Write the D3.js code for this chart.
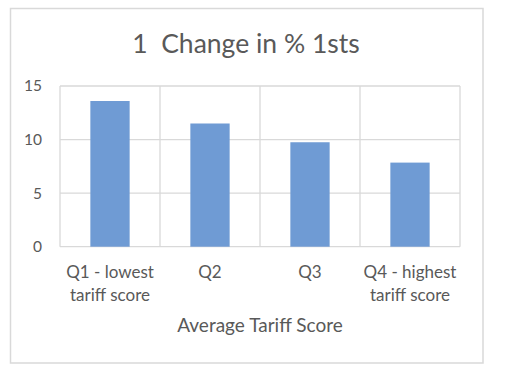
<!DOCTYPE html>
<html><head><meta charset="utf-8">
<script src="https://cdn.jsdelivr.net/npm/d3@7"></script>
<style>body{margin:0;background:#fff}svg{display:block}text{font-family:Lato,"Open Sans",sans-serif;fill:#595959;white-space:pre}</style>
</head><body>
<script>
const categories = [["Q1 - lowest","tariff score"],["Q2"],["Q3"],["Q4 - highest","tariff score"]];
const values = [13.6, 11.5, 9.75, 7.85];
const yTicks = [0, 5, 10, 15];
const title = "1  Change in % 1sts";
const xTitle = "Average Tariff Score";

const W = 505, H = 374;
const svg = d3.select("body").append("svg").attr("width", W).attr("height", H);
svg.append("rect").attr("x",10.5).attr("y",8.5).attr("width",472.5).attr("height",354.5)
  .attr("fill","#fff").attr("stroke","#d9d9d9").attr("stroke-width",1.5);

const m = {left:60, right:460, top:86, bottom:246.7};
const x = d3.scaleBand().domain(d3.range(categories.length)).range([m.left, m.right]).padding(0);
const y = d3.scaleLinear().domain([0,15]).range([m.bottom, m.top]);

svg.append("g").selectAll("line").data(yTicks).join("line")
  .attr("x1",m.left).attr("x2",m.right).attr("y1",d=>y(d)).attr("y2",d=>y(d))
  .attr("stroke","#d9d9d9").attr("stroke-width",1.3);
const vlines = d3.range(categories.length+1).map(i => i<categories.length ? x(i) : m.right);
svg.append("g").selectAll("line").data(vlines).join("line")
  .attr("x1",d=>d).attr("x2",d=>d).attr("y1",m.top).attr("y2",m.bottom)
  .attr("stroke","#d9d9d9").attr("stroke-width",1.3);

const bw = x.bandwidth()*0.393;
svg.append("g").selectAll("rect").data(values).join("rect")
  .attr("x",(d,i)=>x(i)+x.bandwidth()/2-bw/2).attr("width",bw)
  .attr("y",d=>y(d)).attr("height",d=>y(0)-y(d)).attr("fill","#6f9bd4");

const yAxis = svg.append("g").attr("transform",`translate(${m.left},0)`)
  .call(d3.axisLeft(y).tickValues(yTicks).tickSize(0).tickPadding(18));
yAxis.select(".domain").remove();
yAxis.selectAll("text").style("font-size","15.5px").style("font-family","Lato").attr("fill","#595959");

const xl = svg.append("g");
categories.forEach((lines,i)=>{
  const cx = x(i)+x.bandwidth()/2;
  const t = xl.append("text").attr("text-anchor","middle").attr("x",cx).attr("y",278)
    .style("font-size","17px");
  lines.forEach((s,j)=> t.append("tspan").attr("x",cx).attr("dy", j?23:0).text(s));
});

svg.append("text").attr("x",(m.left+m.right)/2).attr("y",332).attr("text-anchor","middle")
  .style("font-size","19px").text(xTitle);
svg.append("text").attr("x",246).attr("y",53).attr("text-anchor","middle")
  .style("font-size","26.5px").text(title);
</script>
</body></html>
